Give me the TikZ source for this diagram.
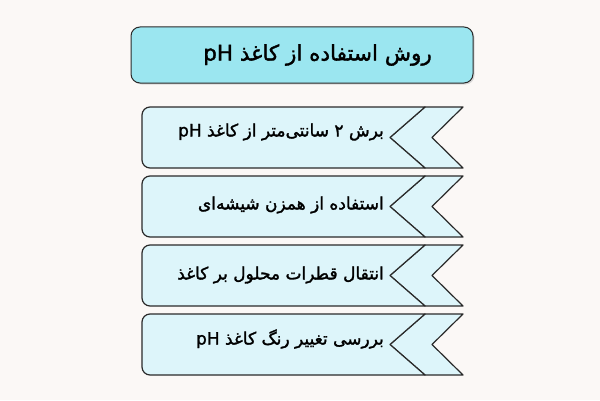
\documentclass[tikz,border=0pt]{standalone}
\usepackage{fontspec}
\newfontfamily\farsifont[Script=Arabic,FakeBold=1.6]{DejaVu Sans}
\TeXXeTstate=1

\definecolor{bgcol}{HTML}{FBF8F6}
\definecolor{titlecol}{HTML}{9BE6F0}
\definecolor{stepcol}{HTML}{DDF5FA}
\definecolor{edgecol}{HTML}{2A2A2A}

\tikzset{
  titlebox/.style={draw=edgecol,fill=titlecol,line width=1pt,rounded corners=9pt},
  stepbox/.style={draw=edgecol,fill=stepcol,line width=1.2pt,line join=round},
  titletext/.style={anchor=east,inner sep=0pt,font=\farsifont\fontsize{21.5}{25}\selectfont},
  steptext/.style={anchor=east,inner sep=0pt,font=\farsifont\fontsize{17}{20}\selectfont},
}

\begin{document}
\begin{tikzpicture}[x=1pt,y=1pt]

\fill[bgcol] (0,0) rectangle (600,400);

% title
\fill[black!15,rounded corners=9pt] (132.5,315.5) rectangle (474.5,371.5);
\draw[titlebox] (131,317) rectangle (473,373);
\node[titletext] (title) at (432,345) {\beginR روش استفاده از کاغذ \beginL pH\endL\endR};

% steps
\foreach \ytop in {293,224,155,86} {
  \pgfmathsetmacro\ybot{\ytop-61}
  \pgfmathsetmacro\ymid{\ytop-30.5}
  \draw[stepbox] (425,\ytop) -- (463,\ytop) -- (432,\ymid) -- (463,\ybot) -- (425,\ybot) -- (390,\ymid) -- cycle;
  \draw[stepbox] (425,\ytop) -- (150,\ytop) arc[start angle=90,end angle=180,radius=8]
    -- (142,\ybot+8) arc[start angle=180,end angle=270,radius=8] -- (425,\ybot) -- (390,\ymid) -- cycle;
}

\node[steptext] (cut) at (384,268) {\beginR برش ۲ سانتی‌متر از کاغذ \beginL pH\endL\endR};
\node[steptext] (rod) at (384,195) {\beginR استفاده از همزن شیشه‌ای\endR};
\node[steptext] (drop) at (384,125) {\beginR انتقال قطرات محلول بر کاغذ\endR};
\node[steptext] (color) at (384,61) {\beginR بررسی تغییر رنگ کاغذ \beginL pH\endL\endR};

\end{tikzpicture}
\end{document}
